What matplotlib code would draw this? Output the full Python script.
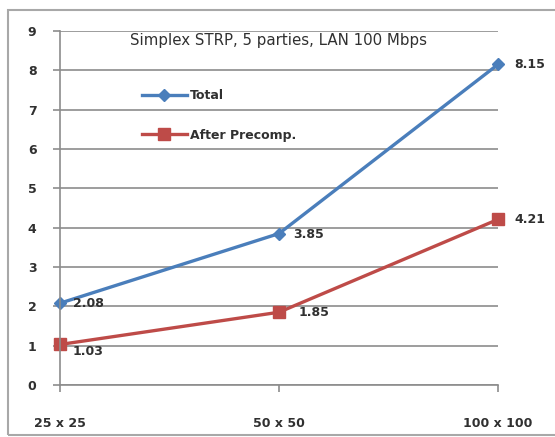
import matplotlib.pyplot as plt
from matplotlib.patches import Rectangle

categories = ["25 x 25", "50 x 50", "100 x 100"]
total = [2.08, 3.85, 8.15]
after_precomp = [1.03, 1.85, 4.21]
title = "Simplex STRP, 5 parties, LAN 100 Mbps"

plt.rcParams['font.family'] = ['DejaVu Sans']
txt = '#303030'
grid_c = '#8c8c8c'

fig = plt.figure(figsize=(5.55, 4.37), dpi=100)
fig.patches.append(Rectangle((8 / 555, 2 / 437), 1.0, 425 / 437, transform=fig.transFigure,
                             fill=False, edgecolor='#a8a8a8', linewidth=1.5))
ax = fig.add_axes([60 / 555, 1 - 385 / 437, 438 / 555, 354 / 437])

x = list(range(len(categories)))
ax.plot(x, total, color='#4a7ebb', linewidth=2.4, marker='D', markersize=6, label='Total', clip_on=False)
ax.plot(x, after_precomp, color='#be4b48', linewidth=2.4, marker='s', markersize=8,
        label='After Precomp.', clip_on=False)

ax.set_xlim(0, 2)
ax.set_ylim(0, 9)
ax.set_yticks(range(10))
ax.set_xticks(x)
ax.set_xticklabels(categories)
ax.grid(axis='y', color=grid_c, linewidth=1.2)
ax.set_axisbelow(True)
for s in ['top', 'right']:
    ax.spines[s].set_visible(False)
for s in ['left', 'bottom']:
    ax.spines[s].set_color(grid_c)
    ax.spines[s].set_linewidth(1.2)
ax.tick_params(axis='y', length=5, width=1.2, color=grid_c, labelsize=9, labelcolor=txt, pad=12)
ax.tick_params(axis='x', length=5, width=1.2, color=grid_c, labelsize=9, labelcolor=txt, pad=18)
for lab in ax.get_xticklabels() + ax.get_yticklabels():
    lab.set_fontweight('bold')

ax.text(1.0, 8.75, title, ha='center', va='center', fontsize=10.8, color=txt)

offsets = [(9, 0), (10, -1), (12, 0)]
for i, v in enumerate(total):
    ax.annotate(f"{v:.2f}", (i, v), xytext=offsets[i], textcoords='offset points',
                ha='left', va='center', fontsize=9, fontweight='bold', color=txt)
offsets2 = [(9, -5), (14, 0), (12, 0)]
for i, v in enumerate(after_precomp):
    ax.annotate(f"{v:.2f}", (i, v), xytext=offsets2[i], textcoords='offset points',
                ha='left', va='center', fontsize=9, fontweight='bold', color=txt)

leg = ax.legend(loc='upper left', bbox_to_anchor=(0.187, 0.835), frameon=False,
                fontsize=9, handlelength=3.6, labelspacing=2.1, handletextpad=0.25,
                borderpad=0, borderaxespad=0)
for t in leg.get_texts():
    t.set_fontweight('bold')
    t.set_color(txt)

fig.savefig('out.png', dpi=100)
